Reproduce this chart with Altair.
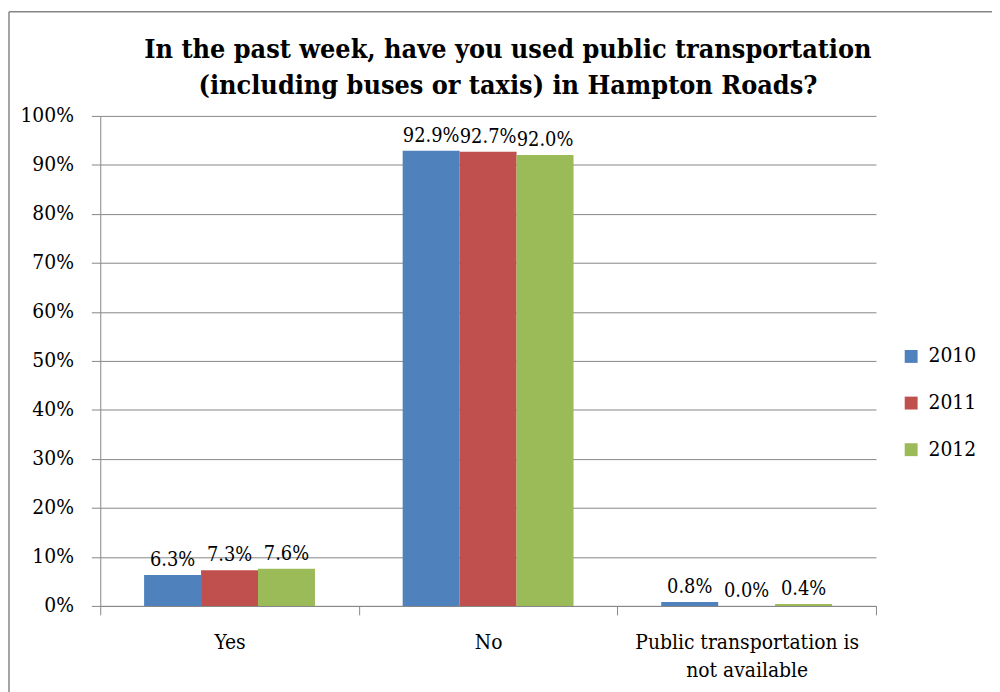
import altair as alt
import pandas as pd

categories = ["Yes", "No", "Public transportation is not available"]
years = ["2010", "2011", "2012"]
values_2010 = [0.063, 0.929, 0.008]
values_2011 = [0.073, 0.927, 0.000]
values_2012 = [0.076, 0.920, 0.004]
colors = ["#4F81BD", "#C0504D", "#9BBB59"]
y_ticks = [i / 10 for i in range(11)]

rows = []
for yr, vals in zip(years, [values_2010, values_2011, values_2012]):
    for c, v in zip(categories, vals):
        rows.append({"category": c, "year": yr, "value": v})
df = pd.DataFrame(rows)

FONT = "DejaVu Serif Condensed, DejaVu Serif"
GRAY = "#868686"

x = alt.X("category:N", sort=categories, title=None,
          scale=alt.Scale(paddingInner=0, paddingOuter=0),
          axis=alt.Axis(labelAngle=0, labelFontSize=21, labelFont=FONT, labelColor="black",
                        domainColor=GRAY, tickColor=GRAY, tickSize=9, tickBand="extent",
                        labelPadding=17, labelLineHeight=28, labelLimit=0,
                        labelExpr="datum.label == 'Public transportation is not available' ? ['Public transportation is', 'not available'] : datum.label"))
xo = alt.XOffset("year:N", sort=years, scale=alt.Scale(paddingInner=0, paddingOuter=0.77))
y = alt.Y("value:Q", title=None, scale=alt.Scale(domain=[0, 1]),
          axis=alt.Axis(values=y_ticks, format=".0%", labelFontSize=21, labelFont=FONT,
                        labelColor="black", domainColor=GRAY, tickColor=GRAY, tickSize=9,
                        labelPadding=18, gridColor=GRAY, grid=True))

base = alt.Chart(df)
bars = base.mark_bar().encode(
    x=x, xOffset=xo, y=y,
    color=alt.Color("year:N", sort=years, scale=alt.Scale(domain=years, range=colors),
                    legend=alt.Legend(title=None, orient="none", legendX=807, legendY=232,
                                      labelFontSize=21, labelFont=FONT, symbolType="square",
                                      symbolSize=169, symbolStrokeWidth=0, rowPadding=25,
                                      labelOffset=7)),
)
labels = base.mark_text(baseline="bottom", dy=-5, fontSize=20, font=FONT, color="black").encode(
    x=x, xOffset=xo, y=y, text=alt.Text("value:Q", format=".1%"),
)
one = pd.DataFrame({"a": [0]})
frame_left = alt.Chart(one).mark_rule(color=GRAY, strokeWidth=1.5).encode(
    x=alt.value(-92), y=alt.value(-105), y2=alt.value(600),
)
frame_top = alt.Chart(one).mark_rule(color=GRAY, strokeWidth=1.5).encode(
    x=alt.value(-92), x2=alt.value(900), y=alt.value(-105),
)

chart = alt.layer(bars, labels, frame_left, frame_top).properties(
    width=782, height=494,
    autosize=alt.AutoSizeParams(type="none"),
    padding={"left": 93, "top": 106, "right": 117, "bottom": 84},
    title=alt.Title(["In the past week, have you used public transportation",
                     "(including buses or taxis) in Hampton Roads?"],
                    fontSize=27, font=FONT, fontWeight="bold", color="black",
                    anchor="middle", lineHeight=37, offset=-90, dx=20, frame="group"),
).configure_view(stroke=None)

chart.save("out.html", embed_options={"renderer": "svg", "actions": False})
